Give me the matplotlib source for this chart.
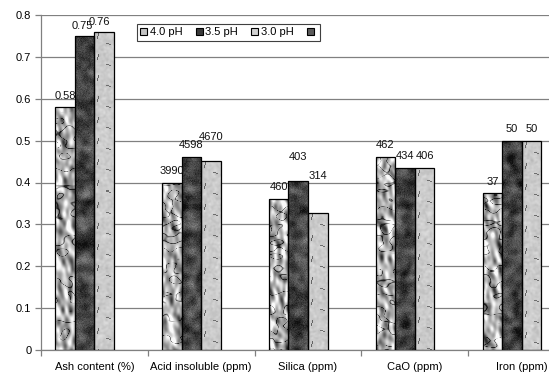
import numpy as np
import matplotlib
matplotlib.use("Agg")
import matplotlib.pyplot as plt
from matplotlib.patches import Patch

plt.rcParams['font.family'] = ['Liberation Sans', 'DejaVu Sans']
plt.rcParams['font.size'] = 8

categories = ["Ash content (%)", "Acid insoluble (ppm)", "Silica (ppm)", "CaO (ppm)", "Iron (ppm)"]
series_names = ["4.0 pH", "3.5 pH", "3.0 pH", ""]

# bar heights on the (scaled) value axis
ph40 = [0.58, 0.399, 0.360, 0.462, 0.376]
ph35 = [0.75, 0.460, 0.403, 0.434, 0.500]
ph30 = [0.76, 0.452, 0.328, 0.434, 0.500]

# data label texts
lab40 = ["0.58", "3990", "460", "462", "37"]
lab35 = ["0.75", "4598", "403", "434", "50"]
lab30 = ["0.76", "4670", "314", "406", "50"]

values = [ph40, ph35, ph30]
labels = [lab40, lab35, lab30]

# label offsets above bar top (pixels), a few labels sit higher
lift = [[11, 12, 12, 12, 11],
        [10, 12, 24, 12, 12],
        [10, 24, 37, 12, 12]]
shift = [[0, 0, 0, 0, 0],
         [-2, 0, 0, 0, 0],
         [-5, 0, 0, 0, 0]]

rng = np.random.default_rng(7)


def smooth_noise(h, w, sy, sx=None):
    sx = sy if sx is None else sx
    a = rng.standard_normal((h, w))
    fy = np.fft.fftfreq(h)[:, None]
    fx = np.fft.fftfreq(w)[None, :]
    g = np.exp(-2 * np.pi ** 2 * ((sx * fx) ** 2 + (sy * fy) ** 2))
    out = np.real(np.fft.ifft2(np.fft.fft2(a) * g))
    return (out - out.mean()) / out.std()


def tex_crumpled(h, w):
    n1 = smooth_noise(h, w, 3.0, 2.0)
    gy, gx = np.gradient(n1)
    shade = 178 + 120 * (gx - 0.5 * gy)
    n2 = smooth_noise(h, w, 2.5, 4.0)
    crease = np.exp(-(n2 / 0.13) ** 2)
    val = shade - 120 * crease
    return np.clip(val, 30, 250) / 255.0


def tex_granite(h, w):
    n = 0.7 * smooth_noise(h, w, 3.0) + 0.3 * rng.standard_normal((h, w))
    val = 68 + 26 * n
    return np.clip(val, 15, 150) / 255.0


def tex_dashes(h, w):
    val = 203 + 5 * smooth_noise(h, w, 1.0)
    for y0 in range(2, h, 21):
        for k in range(6):
            yy, xx = y0 + k, 3 + (5 - k) // 3
            if yy < h and xx < w:
                val[yy, xx] = 100
        for k in range(5):
            yy, xx = y0 + 10 + k // 3, 12 + k
            if yy < h and xx < w:
                val[yy, xx] = 110
    return np.clip(val, 0, 255) / 255.0


textures = [tex_crumpled, tex_granite, tex_dashes]

fig = plt.figure(figsize=(5.49, 3.74), dpi=100)
ax = fig.add_axes([41 / 549, 1 - 350 / 374, 534 / 549, 335 / 374])

x = np.arange(len(categories))
width = 0.183
n_series = len(series_names)

ax.set_xlim(-0.5, len(categories) - 0.5)
ax.set_ylim(0, 0.8)

px_per_x = ax.transData.transform((1, 0))[0] - ax.transData.transform((0, 0))[0]
px_per_y = ax.transData.transform((0, 1))[1] - ax.transData.transform((0, 0))[1]

for i, vals in enumerate(values):
    pos = x + (i - (n_series - 1) / 2) * width
    bars = ax.bar(pos, vals, width, facecolor='none', edgecolor='black',
                  linewidth=0.9, zorder=3)
    for j, b in enumerate(bars):
        h_px = max(int(round(vals[j] * px_per_y)), 2)
        w_px = max(int(round(width * px_per_x)), 2)
        img = textures[i](h_px, w_px)
        im = ax.imshow(img, cmap='gray', vmin=0, vmax=1, aspect='auto',
                       interpolation='nearest', origin='upper',
                       extent=(pos[j] - width / 2, pos[j] + width / 2, 0, vals[j]),
                       zorder=2)
        im.set_clip_path(b)
        ax.annotate(labels[i][j], (pos[j], vals[j]),
                    xytext=(shift[i][j], lift[i][j]), textcoords='offset pixels',
                    ha='center', va='center', fontsize=8, color='#111111', zorder=4)

ax.set_xlim(-0.5, len(categories) - 0.5)
ax.set_ylim(0, 0.8)

ax.set_yticks(np.arange(0, 0.81, 0.1))
ax.set_yticklabels(["0"] + [f"{v:.1f}" for v in np.arange(0.1, 0.81, 0.1)])
ax.yaxis.grid(True, color='#808080', linewidth=0.9, zorder=0)
ax.set_axisbelow(True)

ax.set_xticks(np.arange(-0.5, len(categories) + 0.5, 1))
ax.set_xticklabels([])
ax.set_xticks(x, minor=True)
ax.set_xticklabels(categories, minor=True)
ax.tick_params(axis='x', which='minor', length=0, pad=9, labelsize=8)
ax.tick_params(axis='x', which='major', length=4, color='#808080', width=0.9)
ax.tick_params(axis='y', length=4, color='#808080', width=0.9, labelsize=8, pad=3)

for s in ['top', 'right']:
    ax.spines[s].set_visible(False)
for s in ['left', 'bottom']:
    ax.spines[s].set_color('#808080')
    ax.spines[s].set_linewidth(0.9)

handle_colors = ['#c4c4c4', '#3a3a3a', '#d2d2d2', '#5a5a5a']
handles = [Patch(facecolor=c, edgecolor='black', linewidth=0.8) for c in handle_colors]
leg = fig.legend(handles, series_names, loc='upper left',
                 bbox_to_anchor=(131 / 549, 1 - 18 / 374), ncol=4,
                 handlelength=0.6, handleheight=0.6, handletextpad=0.25,
                 columnspacing=1.2, borderpad=0.35, fontsize=8,
                 fancybox=False, framealpha=1, edgecolor='#404040')
leg.get_frame().set_linewidth(0.8)

fig.savefig("out.png", dpi=100)
